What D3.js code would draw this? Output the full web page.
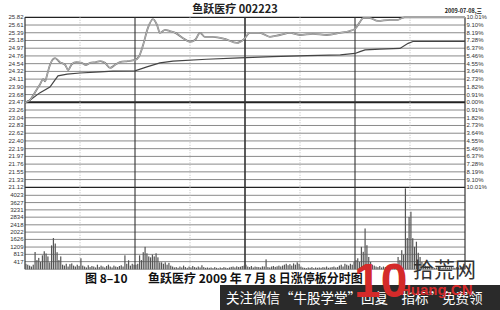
<!doctype HTML>
<html>
<head>
    <meta charset="utf-8">
    <script src="https://d3js.org/d3.v7.min.js"></script>
    <style>
        body { margin: 0; background: #fff; }
        text { font-family: "Liberation Sans", Arial, sans-serif; }
    </style>
</head>
<body>
<script>

    // price ticks (left) and percent ticks (right)
    var priceLabels = ["25.82", "25.61", "25.39", "25.18", "24.97", "24.76", "24.54", "24.32", "24.11", "23.90", "23.68", "23.47",
        "23.26", "23.04", "22.83", "22.62", "22.40", "22.19", "21.97", "21.76", "21.55", "21.33", "21.12"];
    var pctTicks = [10.01, 9.10, 8.19, 7.28, 6.37, 5.46, 4.55, 3.64, 2.73, 1.82, 0.91, 0.00,
        -0.91, -1.82, -2.73, -3.64, -4.55, -5.46, -6.37, -7.28, -8.19, -9.10, -10.01];
    var volTicks = [4023, 3627, 3231, 2834, 2418, 2022, 1626, 1209, 813, 417];

    var prevClose = 23.47;

    // minute-price line (minutes after open)
    var priceMin = [0, 2.7, 5.5, 8, 10, 11, 12, 13.6, 16.4, 19, 22, 23.5, 25.6, 28, 31, 33, 35.5, 38.7, 41, 43.6,
        46.4, 49, 51.8, 56, 60, 62, 64.4, 67, 69.8, 72, 73.6, 76.4, 79, 82, 86, 90, 92.7, 95.5, 98, 102.5,
        109, 115.6, 119, 122.7, 128, 133.6, 139, 144.5, 150, 157, 164.7, 171.8, 177, 180, 182.7, 184.4, 188, 192.5, 199, 203.5,
        205.6, 207, 240];
    var priceVal = [23.47, 23.53, 23.75, 23.95, 24.11, 24.05, 24.22, 24.50, 24.69, 24.58, 24.50, 24.36, 24.53, 24.58, 24.56, 24.50, 24.56, 24.58, 24.61, 24.56,
        24.42, 24.50, 24.58, 24.61, 24.64, 24.72, 25.05, 25.52, 25.77, 25.61, 25.39, 25.47, 25.44, 25.39, 25.25, 25.14, 25.19, 25.39, 25.28, 25.28,
        25.22, 25.11, 25.19, 25.39, 25.39, 25.28, 25.33, 25.39, 25.33, 25.36, 25.33, 25.39, 25.44, 25.50, 25.69, 25.80, 25.80, 25.72, 25.75, 25.75,
        25.80, 25.82, 25.82];

    // average price line
    var avgMin = [0, 2.7, 8, 13.6, 16.4, 18, 23, 30, 41, 48, 60, 66.5, 73.6, 80.7, 99, 117, 135, 154, 172, 180,
        182.7, 185.5, 193.6, 204.5, 209, 211.6, 240];
    var avgVal = [23.47, 23.53, 23.73, 23.89, 24.09, 24.20, 24.25, 24.28, 24.31, 24.33, 24.34, 24.45, 24.56, 24.61, 24.66, 24.70, 24.73, 24.76, 24.78, 24.82,
        24.87, 24.92, 24.94, 24.96, 25.10, 25.15, 25.15];

    // volume per minute (240 minutes)
    var volume = [
        300, 250, 200, 150, 250, 940, 500, 620, 400, 760, 980, 860, 700, 380, 1300, 1700, 1400, 930, 500, 700,
        250, 200, 300, 150, 280, 320, 200, 150, 250, 180, 600, 200, 150, 100, 220, 120, 180, 150, 100, 250,
        120, 200, 150, 100, 180, 250, 150, 100, 200, 150, 120, 180, 220, 150, 760, 300, 490, 200, 300, 250,
        250, 300, 760, 500, 930, 1220, 870, 700, 650, 800, 700, 870, 650, 380, 380, 300, 380, 250, 350, 200,
        150, 100, 120, 80, 150, 100, 200, 120, 80, 150, 100, 180, 120, 90, 150, 100, 220, 120, 80, 100,
        80, 100, 60, 120, 80, 50, 100, 70, 120, 90, 60, 100, 130, 150, 100, 160, 120, 140, 180, 200,
        250, 150, 120, 180, 100, 150, 130, 120, 100, 160, 150, 540, 120, 100, 150, 180, 130, 160, 200, 150,
        200, 250, 300, 220, 280, 200, 320, 250, 380, 300, 150, 100, 80, 60, 100, 80, 120, 60, 100, 80,
        100, 80, 120, 100, 150, 80, 100, 120, 150, 100, 120, 200, 250, 150, 300, 250, 200, 300, 250, 400,
        500, 600, 400, 1220, 950, 2220, 1310, 670, 400, 250, 200, 150, 120, 180, 100, 150, 120, 100, 150, 200,
        150, 200, 300, 670, 500, 1040, 800, 4400, 1700, 2850, 3130, 1690, 1220, 1500, 900, 670, 400, 300, 200, 150,
        150, 100, 120, 80, 100, 150, 120, 80, 100, 130, 90, 110, 150, 100, 80, 120, 100, 90, 150, 200
    ];

    // half-hour grid (minutes), solid ones on the hour
    var vGrid = [30, 60, 90, 120, 150, 180, 210];

    var W = 500, H = 310;
    var plotLeft = 25, plotRight = 465, plotTop = 17.3, priceBottom = 187.3, volBottom = 269.3;

    var svg = d3.select("body")
        .append("svg")
        .attr("width", W)
        .attr("height", H);

    svg.append("rect").attr("width", W).attr("height", H).attr("fill", "#fff");

    var x = d3.scaleLinear().domain([0, 240]).range([plotLeft, plotRight]);
    var yPct = d3.scaleLinear().domain([-10.01, 10.01]).range([priceBottom, plotTop]);
    var yPrice = d3.scaleLinear().domain([prevClose * (1 - 0.1001), prevClose * (1 + 0.1001)]).range([priceBottom, plotTop]);
    var yVol = d3.scaleLinear().domain([0, 4023]).range([volBottom, 195.3]);

    // horizontal grid in price panel
    svg.append("g").selectAll("line")
        .data(pctTicks)
        .enter().append("line")
        .attr("x1", plotLeft).attr("x2", plotRight)
        .attr("y1", function(d) { return yPct(d); })
        .attr("y2", function(d) { return yPct(d); })
        .attr("stroke", function(d) { return (d === 0 || Math.abs(d) === 10.01) ? "#222" : "#8a8a8a"; })
        .attr("stroke-width", function(d) { return d === 0 ? 2 : (Math.abs(d) === 10.01 ? 1.3 : 1); });

    // horizontal grid in volume panel
    svg.append("g").selectAll("line")
        .data(volTicks)
        .enter().append("line")
        .attr("x1", plotLeft).attr("x2", plotRight)
        .attr("y1", function(d) { return yVol(d); })
        .attr("y2", function(d) { return yVol(d); })
        .attr("stroke", "#8a8a8a")
        .attr("stroke-width", 1);

    // vertical grid
    svg.append("g").selectAll("line")
        .data(vGrid)
        .enter().append("line")
        .attr("x1", function(d) { return x(d); })
        .attr("x2", function(d) { return x(d); })
        .attr("y1", plotTop).attr("y2", volBottom)
        .attr("stroke", function(d) { return d % 60 === 0 ? "#333" : "#bbb"; })
        .attr("stroke-width", function(d) { return d === 120 ? 1.6 : (d % 60 === 0 ? 1.1 : 1); })
        .attr("stroke-dasharray", function(d) { return d % 60 === 0 ? null : "1,1.5"; });

    // frame
    svg.append("line").attr("x1", plotLeft).attr("x2", plotLeft).attr("y1", plotTop).attr("y2", volBottom)
        .attr("stroke", "#333").attr("stroke-width", 1.2);
    svg.append("line").attr("x1", plotRight).attr("x2", plotRight).attr("y1", plotTop).attr("y2", volBottom)
        .attr("stroke", "#333").attr("stroke-width", 1.2);
    svg.append("line").attr("x1", plotLeft).attr("x2", plotRight).attr("y1", volBottom).attr("y2", volBottom)
        .attr("stroke", "#888").attr("stroke-width", 0.8);

    // volume bars
    svg.append("g").selectAll("rect")
        .data(volume)
        .enter().append("rect")
        .attr("x", function(d, i) { return x(i + 0.5) - 0.6; })
        .attr("width", 1.2)
        .attr("y", function(d) { return yVol(d); })
        .attr("height", function(d) { return volBottom - yVol(d); })
        .attr("fill", "#555");

    // average line
    var avgData = avgMin.map(function(t, i) { return [t, avgVal[i]]; });
    svg.append("path")
        .datum(avgData)
        .attr("fill", "none")
        .attr("stroke", "#444")
        .attr("stroke-width", 1.2)
        .attr("d", d3.line().x(function(d) { return x(d[0]); }).y(function(d) { return yPrice(d[1]); }));

    // price line
    var priceData = priceMin.map(function(t, i) { return [t, priceVal[i]]; });
    var priceLine = d3.line().curve(d3.curveMonotoneX)
        .x(function(d) { return x(d[0]); }).y(function(d) { return yPrice(d[1]); });
    svg.append("path")
        .datum(priceData)
        .attr("fill", "none")
        .attr("stroke", "#777")
        .attr("stroke-width", 1.8)
        .attr("d", priceLine);
    svg.append("path")
        .datum(priceData)
        .attr("fill", "none")
        .attr("stroke", "#ddd")
        .attr("stroke-width", 0.6)
        .attr("d", priceLine);

    // left price labels
    svg.append("g").selectAll("text")
        .data(pctTicks)
        .enter().append("text")
        .attr("x", plotLeft - 1.5)
        .attr("y", function(d) { return yPct(d) + 2; })
        .attr("text-anchor", "end")
        .attr("font-size", "6px")
        .attr("fill", "#333")
        .text(function(d, i) { return priceLabels[i]; });

    // right percent labels
    svg.append("g").selectAll("text")
        .data(pctTicks)
        .enter().append("text")
        .attr("x", plotRight + 1.5)
        .attr("y", function(d) { return yPct(d) + 2; })
        .attr("font-size", "6px")
        .attr("fill", "#333")
        .text(function(d) { return Math.abs(d).toFixed(2) + "%"; });

    // volume labels
    svg.append("g").selectAll("text")
        .data(volTicks)
        .enter().append("text")
        .attr("x", plotLeft - 1.5)
        .attr("y", function(d) { return yVol(d) + 2; })
        .attr("text-anchor", "end")
        .attr("font-size", "6px")
        .attr("fill", "#333")
        .text(function(d) { return d; });

    // title and date
    svg.append("text")
        .attr("x", 235).attr("y", 13)
        .attr("text-anchor", "middle")
        .attr("font-size", "11px")
        .attr("font-weight", "bold")
        .style("font-family", "'Noto Sans CJK SC', sans-serif")
        .attr("fill", "#222")
        .text("鱼跃医疗 002223");
    svg.append("text")
        .attr("x", 482).attr("y", 13)
        .attr("text-anchor", "end")
        .attr("font-size", "5.5px")
        .attr("font-weight", "bold")
        .style("font-family", "'Noto Sans CJK SC', sans-serif")
        .attr("fill", "#222")
        .text("2009-07-08,三");

    // caption
    svg.append("text")
        .attr("x", 85).attr("y", 283)
        .attr("font-size", "12px")
        .attr("font-weight", "bold")
        .style("font-family", "'Noto Sans CJK SC', sans-serif")
        .attr("fill", "#111")
        .text("图 8–10");
    svg.append("text")
        .attr("x", 148).attr("y", 283)
        .attr("font-size", "12px")
        .attr("font-weight", "bold")
        .style("font-family", "'Noto Sans CJK SC', sans-serif")
        .attr("fill", "#111")
        .attr("xml:space", "preserve")
        .text("鱼跃医疗 2009 年 7 月 8 日涨停板分时图");

    // bottom banner
    svg.append("rect")
        .attr("x", 220).attr("y", 285).attr("width", 280).attr("height", 25)
        .attr("fill", "#2a2a2a");
    svg.append("text")
        .attr("x", 226).attr("y", 303)
        .attr("font-size", "13.5px")
        .style("font-family", "'Noto Sans CJK SC', sans-serif")
        .attr("fill", "#fff")
        .text("关注微信“牛股学堂”回复“指标”免费领");

    // watermark
    svg.append("text")
        .attr("x", 354).attr("y", 297)
        .attr("font-size", "48px")
        .attr("font-weight", "bold")
        .attr("fill", "#d42a2a")
        .text("10");
    svg.append("text")
        .attr("x", 413).attr("y", 277)
        .attr("font-size", "21px")
        .style("font-family", "'Noto Sans CJK SC', sans-serif")
        .attr("fill", "#333")
        .text("拾荒网");
    svg.append("text")
        .attr("x", 400).attr("y", 295)
        .attr("font-size", "15px")
        .attr("font-weight", "bold")
        .attr("fill", "#d42a2a")
        .text("Huang.CN");

</script>
</body>
</html>
